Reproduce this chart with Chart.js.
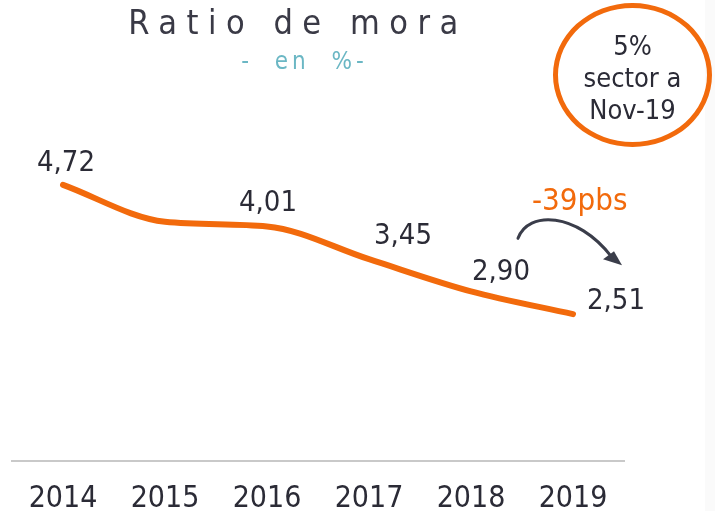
<!DOCTYPE html>
<html>
<head>
<meta charset="utf-8">
<script src="https://cdn.jsdelivr.net/npm/chart.js@4.4.1/dist/chart.umd.min.js"></script>
<style>
  html, body { margin: 0; padding: 0; background: #fff; }
  body { width: 715px; height: 511px; position: relative; overflow: hidden;
         font-family: 'DejaVu Sans Condensed', 'Liberation Sans Narrow', sans-serif; }
  #wrap { position: absolute; left: 0; top: 0; width: 715px; height: 540px; }
  .title { position: absolute; left: 0; top: 2px; width: 596px; text-align: center;
           font-size: 34px; letter-spacing: 9.5px; color: #3a3a46; font-weight: 300; }
  .subtitle { position: absolute; left: 0; top: 47px; width: 609px; text-align: center;
              font-size: 24px; letter-spacing: 4px; color: #6bb7c4; white-space: pre; }
  .bubble { position: absolute; left: 553px; top: 3px; width: 159px; height: 144px;
            border: 5px solid #f26a0c; border-radius: 50%; text-align: center;
            color: #2b2b36; font-size: 27px; line-height: 32px; padding-top: 22px; box-sizing: border-box; }
  .delta { position: absolute; left: 532px; top: 181px; font-size: 31px; color: #f26a0c; }
  .edge { position: absolute; left: 705px; top: 0; width: 10px; height: 511px; background: #fafafa; }
</style>
</head>
<body>
<div id="wrap"><canvas id="moraChart" width="715" height="539"></canvas></div>
<div class="edge"></div>
<div class="title">Ratio de mora</div>
<div class="subtitle">-  en  %-</div>
<div class="bubble">5%<br>sector a<br>Nov-19</div>
<div class="delta">-39pbs</div>
<script>
// data
const years = ['2014', '2015', '2016', '2017', '2018', '2019'];
const moraValues = [4.72, 4.09, 4.01, 3.45, 2.90, 2.51];
const valueLabels = ['4,72', '', '4,01', '3,45', '2,90', '2,51'];

// label nudges (px) relative to each point
const labelShift = [[3, -21], [0, -22], [1, -23], [34, -23], [30, -19], [43, -13]];

const ORANGE = '#f26a0c';

// draws value labels and the curved arrow
const extrasPlugin = {
  id: 'extras',
  afterDatasetsDraw(chart) {
    const ctx = chart.ctx;
    const meta = chart.getDatasetMeta(0);
    ctx.save();
    ctx.font = '29px "DejaVu Sans Condensed", "Liberation Sans Narrow", sans-serif';
    ctx.fillStyle = '#2b2b36';
    ctx.textAlign = 'center';
    ctx.textBaseline = 'middle';
    meta.data.forEach((pt, i) => {
      if (!valueLabels[i]) return;
      ctx.fillText(valueLabels[i], pt.x + labelShift[i][0], pt.y + labelShift[i][1]);
    });

    // curved arrow between 2018 and 2019
    const p18 = meta.data[4], p19 = meta.data[5];
    const x0 = p18.x + 47, y0 = p18.y - 53;
    const x1 = p19.x + 44, y1 = p19.y - 50;
    ctx.strokeStyle = '#3a3d4a';
    ctx.fillStyle = '#3a3d4a';
    ctx.lineWidth = 3;
    ctx.lineCap = 'round';
    ctx.beginPath();
    ctx.moveTo(x0, y0);
    ctx.bezierCurveTo(x0 + 10, y0 - 28, x1 - 40, y1 - 52, x1 - 6, y1 - 8);
    ctx.stroke();
    ctx.beginPath();
    ctx.moveTo(x1 - 14, y1 - 5);
    ctx.lineTo(x1 + 5, y1 + 1);
    ctx.lineTo(x1 - 3, y1 - 13);
    ctx.closePath();
    ctx.fill();
    ctx.restore();
  }
};

document.addEventListener('DOMContentLoaded', function () {
  const ctx = document.getElementById('moraChart').getContext('2d');
  new Chart(ctx, {
    type: 'line',
    data: {
      labels: years,
      datasets: [
        {
          data: moraValues,
          borderColor: ORANGE,
          borderWidth: 6,
          borderCapStyle: 'round',
          pointRadius: 0,
          cubicInterpolationMode: 'monotone',
          fill: false,
        },
      ],
    },
    options: {
      responsive: false,
      animation: false,
      layout: {
        padding: { left: 12, right: 91, top: 110, bottom: 2 },
      },
      plugins: {
        legend: { display: false },
        tooltip: { enabled: false },
      },
      scales: {
        x: {
          offset: true,
          grid: { display: false, drawTicks: false },
          border: { display: true, color: '#c9c9c9', width: 2 },
          ticks: {
            color: '#2b2b36',
            padding: 20,
            font: { size: 30, family: '"DejaVu Sans Condensed", "Liberation Sans Narrow", sans-serif' },
          },
        },
        y: {
          display: false,
          min: 0,
          max: 6,
        },
      },
    },
    plugins: [extrasPlugin],
  });
});
</script>
</body>
</html>
